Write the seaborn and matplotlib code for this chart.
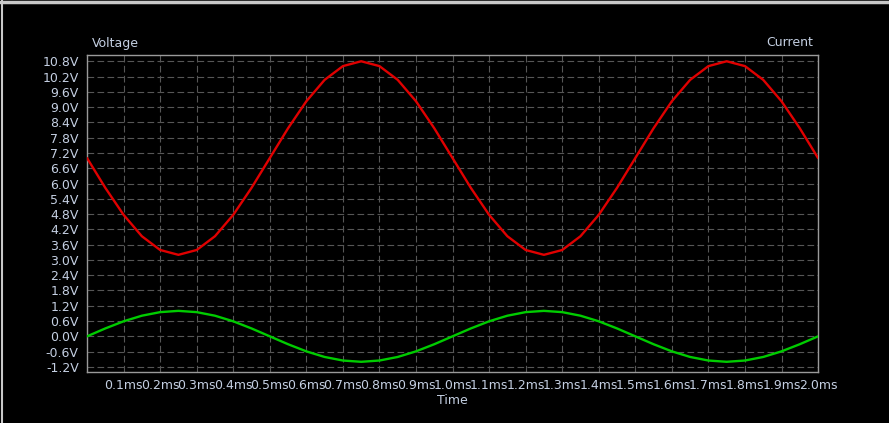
import matplotlib
matplotlib.use("Agg")
import matplotlib.pyplot as plt
from matplotlib.lines import Line2D
import seaborn as sns
import pandas as pd

# samples, every 0.05 ms
time_ms = [0.00, 0.05, 0.10, 0.15, 0.20, 0.25, 0.30, 0.35, 0.40, 0.45,
           0.50, 0.55, 0.60, 0.65, 0.70, 0.75, 0.80, 0.85, 0.90, 0.95,
           1.00, 1.05, 1.10, 1.15, 1.20, 1.25, 1.30, 1.35, 1.40, 1.45,
           1.50, 1.55, 1.60, 1.65, 1.70, 1.75, 1.80, 1.85, 1.90, 1.95, 2.00]
voltage = [7.00, 5.83, 4.77, 3.93, 3.39, 3.20, 3.39, 3.93, 4.77, 5.83,
           7.00, 8.17, 9.23, 10.07, 10.61, 10.80, 10.61, 10.07, 9.23, 8.17,
           7.00, 5.83, 4.77, 3.93, 3.39, 3.20, 3.39, 3.93, 4.77, 5.83,
           7.00, 8.17, 9.23, 10.07, 10.61, 10.80, 10.61, 10.07, 9.23, 8.17, 7.00]
current = [0.00, 0.31, 0.59, 0.81, 0.95, 1.00, 0.95, 0.81, 0.59, 0.31,
           0.00, -0.31, -0.59, -0.81, -0.95, -1.00, -0.95, -0.81, -0.59, -0.31,
           0.00, 0.31, 0.59, 0.81, 0.95, 1.00, 0.95, 0.81, 0.59, 0.31,
           0.00, -0.31, -0.59, -0.81, -0.95, -1.00, -0.95, -0.81, -0.59, -0.31, 0.00]

y_ticks = [-1.2, -0.6, 0.0, 0.6, 1.2, 1.8, 2.4, 3.0, 3.6, 4.2, 4.8,
           5.4, 6.0, 6.6, 7.2, 7.8, 8.4, 9.0, 9.6, 10.2, 10.8]
x_ticks = [0.1, 0.2, 0.3, 0.4, 0.5, 0.6, 0.7, 0.8, 0.9, 1.0,
           1.1, 1.2, 1.3, 1.4, 1.5, 1.6, 1.7, 1.8, 1.9, 2.0]

text_color = "#c4cfe2"
frame_color = "#9a9a9a"
grid_color = "#565656"


def scope_plot(out="out.png"):
    sns.set_style("dark")
    plt.rcParams["font.family"] = ["DejaVu Sans"]

    fig = plt.figure(figsize=(8.89, 4.23), dpi=100)
    fig.patch.set_facecolor("black")
    ax = fig.add_axes([0.0979, 0.1206, 0.8223, 0.749])
    ax.set_facecolor("black")

    df = pd.DataFrame({"t": time_ms, "V": voltage, "I": current})
    sns.lineplot(data=df, x="t", y="V", ax=ax, color="#e00000", linewidth=1.7, zorder=3)
    sns.lineplot(data=df, x="t", y="I", ax=ax, color="#00cc00", linewidth=1.7, zorder=3)

    ax.set_xlim(0, 2.0)
    ax.set_ylim(-1.40, 11.04)
    ax.set_xticks(x_ticks)
    ax.set_xticklabels(["{:.1f}ms".format(v) for v in x_ticks])
    ax.set_yticks(y_ticks)
    ax.set_yticklabels(["{:.1f}V".format(v) for v in y_ticks])

    ax.grid(True, color=grid_color, linestyle=(0, (6, 3)), linewidth=0.8)
    ax.tick_params(axis="both", colors=frame_color, labelcolor=text_color,
                   labelsize=9, length=4, width=0.8)
    ax.tick_params(axis="x", direction="in", pad=5)
    ax.tick_params(axis="y", direction="out", pad=2)
    for sp in ax.spines.values():
        sp.set_visible(True)
        sp.set_color(frame_color)
        sp.set_linewidth(1.0)

    ax.set_xlabel("")
    ax.set_ylabel("")
    fig.text(92 / 889, 1 - 43 / 423, "Voltage", color=text_color, fontsize=9,
             ha="left", va="center")
    fig.text(813 / 889, 1 - 43 / 423, "Current", color=text_color, fontsize=9,
             ha="right", va="center")
    fig.text(452 / 889, 1 - 400 / 423, "Time", color=text_color, fontsize=9,
             ha="center", va="center")

    # light window edge at top and left
    fig.add_artist(Line2D([0, 1], [0.996, 0.996], transform=fig.transFigure,
                          color="#c8c8c8", linewidth=2.5))
    fig.add_artist(Line2D([0.002, 0.002], [0, 1], transform=fig.transFigure,
                          color="#c8c8c8", linewidth=1.5))

    fig.savefig(out, dpi=100, facecolor=fig.get_facecolor())


if __name__ == "__main__":
    scope_plot()
